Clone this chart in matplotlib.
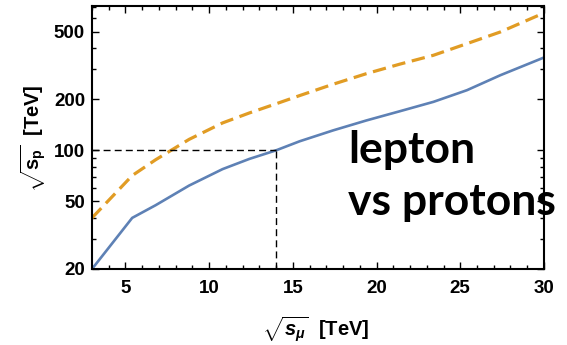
import matplotlib
matplotlib.use('Agg')
import matplotlib.pyplot as plt
from matplotlib.ticker import FixedLocator, NullFormatter, MultipleLocator, LogLocator

plt.rcParams['font.family'] = ['Liberation Sans', 'DejaVu Sans']
plt.rcParams['mathtext.fontset'] = 'custom'
plt.rcParams['mathtext.rm'] = 'Liberation Sans:bold'
plt.rcParams['mathtext.bf'] = 'Liberation Sans:bold'
plt.rcParams['mathtext.it'] = 'Liberation Sans:bold:italic'

# muon collider energy (TeV)
mu_energy = [3, 5.4, 6.8, 8.8, 10.8, 12.4, 14, 15.4, 17.4, 19.4, 21.4, 23.4, 25.4, 27.4, 30]
# equivalent proton collider energy (TeV)
proton_lepton = [20, 40, 47.5, 62, 77.5, 89, 100, 113, 131, 150, 170, 193, 226, 277, 352]
proton_alt = [40, 71, 88, 116, 145, 166, 188, 210, 245, 283, 322, 363, 425, 498, 644]

ref_mu = 14
ref_p = 100

x_ticks = [5, 10, 15, 20, 25, 30]
y_ticks = [20, 50, 100, 200, 500]

fig = plt.figure(figsize=(5.67, 3.45), dpi=100)
ax = fig.add_axes([0.1623, 0.2203, 0.797, 0.7623])

ax.plot(mu_energy, proton_lepton, color='#5E81B5', lw=1.9)
ax.plot(mu_energy, proton_alt, color='#E19C24', lw=2.3, ls=(0, (4.2, 2.1)))
ax.plot([3, ref_mu], [ref_p, ref_p], color='black', lw=1.0, ls=(0, (5, 3)))
ax.plot([ref_mu, ref_mu], [20, ref_p], color='black', lw=1.0, ls=(0, (5, 3)))

ax.set_yscale('log')
ax.set_xlim(3, 30)
ax.set_ylim(20, 708)
ax.xaxis.set_major_locator(FixedLocator(x_ticks))
ax.xaxis.set_minor_locator(MultipleLocator(1))
ax.yaxis.set_major_locator(FixedLocator(y_ticks))
ax.yaxis.set_minor_locator(LogLocator(base=10, subs=range(1, 10)))
ax.yaxis.set_minor_formatter(NullFormatter())
ax.set_yticklabels([str(v) for v in y_ticks])
ax.set_xticklabels([str(v) for v in x_ticks])

ax.tick_params(which='both', direction='in', top=True, right=True, width=1.0)
ax.tick_params(which='major', length=5, labelsize=13.5)
ax.tick_params(axis='x', which='major', pad=8)
ax.tick_params(axis='y', which='major', pad=5)
ax.tick_params(which='minor', length=3)
for lab in ax.get_xticklabels() + ax.get_yticklabels():
    lab.set_fontweight('bold')
for sp in ax.spines.values():
    sp.set_linewidth(1.5)

fig.text(0.557, 0.004, r'$\sqrt{\mathit{s}_{\mu}}$  [TeV]', ha='center', va='bottom',
         fontsize=14.5, fontweight='bold')
fig.text(0.058, 0.6, r'$\sqrt{\mathrm{s_p}}$  [TeV]', ha='center', va='center',
         rotation=90, fontsize=14.5, fontweight='bold')

fig.text(0.614, 0.528, 'lepton', fontsize=32, fontweight='bold', family='Lato',
         va='baseline', ha='left')
fig.text(0.614, 0.377, 'vs protons', fontsize=32, fontweight='bold', family='Lato',
         va='baseline', ha='left')

fig.savefig('out.png', dpi=100)
